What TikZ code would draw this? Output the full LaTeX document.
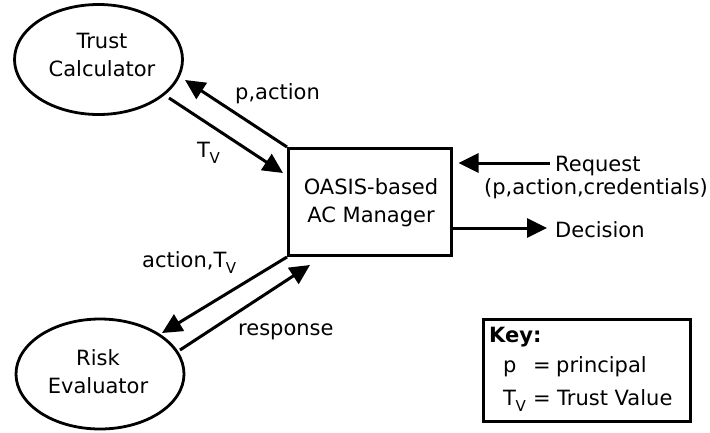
\documentclass[tikz,border=0pt]{standalone}
\usepackage{fontspec}
\setmainfont{DejaVu Sans}
\usetikzlibrary{arrows.meta,shapes.geometric}
% T with a lowered subscript v
\newcommand{\TvSym}{T\kern-0.5pt\raisebox{-6pt}{\fontsize{15}{15}\selectfont V}}
\begin{document}
\begin{tikzpicture}[x=1pt,y=-1pt,
  font=\fontsize{21}{28}\selectfont,
  proc/.style={draw, ellipse, line width=2.8pt, minimum width=168pt, minimum height=110pt, inner sep=0pt},
  mgrbox/.style={draw, rectangle, line width=3pt, minimum width=163pt, minimum height=107pt, inner sep=0pt},
  keybox/.style={draw, rectangle, line width=3pt, minimum width=207pt, minimum height=102pt, inner sep=0pt},
  flow/.style={-{Triangle[length=20pt,width=19pt]}, line width=3pt},
  txt/.style={inner sep=0pt, align=center},
  lbl/.style={inner sep=0pt, anchor=base west}]
\useasboundingbox (0,0) rectangle (710,432);

% components
\node[proc] (tc) at (98.5,59.5) {};
\node[txt] (tctext) at (102,55) {Trust\\Calculator};
\node[proc] (re) at (100,374) {};
\node[txt] (retext) at (98,371.5) {Risk\\Evaluator};
\node[mgrbox] (mgr) at (370,202) {};
\node[txt] (mgrtext) at (371,203) {OASIS-based\\AC Manager};

% arrow end points near the ellipses and the box
\coordinate (tcIn) at (185,80);
\coordinate (tcOut) at (169,98);
\coordinate (mgrIn) at (283,173);
\coordinate (reIn) at (162,333);
\coordinate (reOut) at (180,350);
\coordinate (mgrResp) at (310,265);

% external request and decision labels
\node[lbl] (req) at (555,171) {Request};
\node[lbl] (reqargs) at (484,194) {(p,action,credentials)};
\node[lbl] (dec) at (555,237) {Decision};

% flows between components
\draw[flow] ([xshift=-5pt]req.west |- 0,163) -- ([xshift=5.5pt]mgr.east |- 0,163);
\draw[flow] (mgr.east |- 0,228) -- ([xshift=-8pt]dec.west |- 0,228);
\draw[flow] (mgr.north west) -- (tcIn);
\draw[flow] (tcOut) -- (mgrIn);
\draw[flow] (mgr.south west) -- (reIn);
\draw[flow] (reOut) -- (mgrResp);

% flow labels
\node[lbl] (lpa) at (235,99) {p,action};
\node[lbl] (ltv) at (197,157) {\TvSym};
\node[lbl] (latv) at (142,267) {action,\TvSym};
\node[lbl] (lresp) at (238,335) {response};

% key
\node[keybox] (key) at (587,370.5) {};
\node[lbl] (keyhead) at (489,342) {\bfseries Key:};
\node[lbl] (kp) at (503,372) {p};
\node[lbl] (kpeq) at (533,372) {=};
\node[lbl] (kpdef) at (556,372) {principal};
\node[lbl] (kt) at (503,405) {\TvSym};
\node[lbl] (kteq) at (533,405) {=};
\node[lbl] (ktdef) at (557,405) {Trust Value};
\end{tikzpicture}
\end{document}
